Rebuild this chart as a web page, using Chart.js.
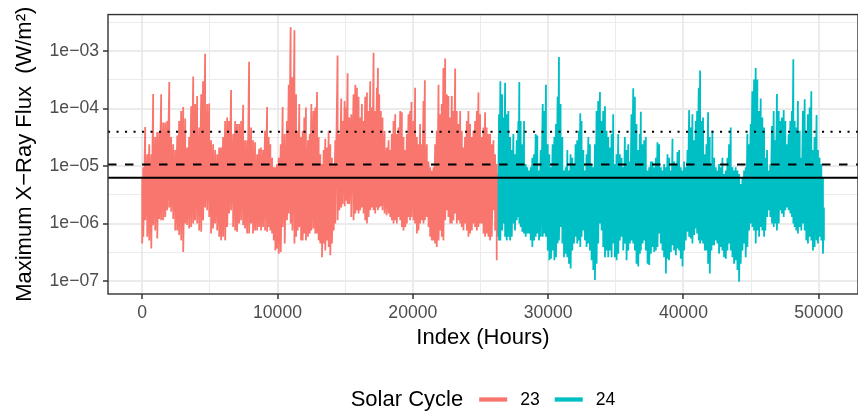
<!DOCTYPE html>
<html>
<head>
<meta charset="utf-8">
<script src="https://cdn.jsdelivr.net/npm/chart.js@4.4.1/dist/chart.umd.min.js"></script>
<style>
  html,body{margin:0;padding:0;background:#fff;}
  #wrap{width:858px;height:412px;position:relative;}
</style>
</head>
<body>
<div id="wrap"><canvas id="chart"></canvas></div>
<script>
const C23_HOURS=[0,80,220,370,520,670,810,960,1110,1260,1400,1550,1700,1850,2000,2140,2290,2440,2590,2730,2880,3030,3180,3320,3470,3620,3770,3910,4060,4210,4360,4500,4650,4800,4950,5090,5240,5390,5540,5690,5830,5980,6130,6280,6420,6570,6720,6870,7010,7160,7310,7460,7600,7750,7900,8050,8190,8340,8490,8640,8780,8930,
  9080,9230,9350,9470,9600,9720,9840,9960,10090,10240,10380,10530,10700,10830,10970,11100,11250,11370,11490,11610,11740,11860,11980,12100,12250,12380,12500,12650,12790,12920,13040,13160,13290,13410,13530,13660,13780,13900,14020,14150,14270,14440,14570,14710,14810,14960,15060,15180,15300,15450,15620,15750,15870,15990,16110,16240,16360,16480,16610,16730,16850,16980,17100,17220,17345,17420,17520,17640,17760,17910,18060,
  18210,18330,18450,18575,18700,18820,18940,19070,19190,19310,19440,19560,19680,19800,19900,20050,20170,20300,20420,20540,20670,20790,20890,21035,21160,21280,21400,21530,21650,21770,21900,22020,22140,22260,22390,22510,22630,22760,22880,23000,23130,23250,23370,23500,23620,23740,23860,23990,24110,24230,24360,24480,24600,24730,24850,24970,25090,25220,25340,25460,25590,25710,25830,25960,26080,26200];
const C23_HIGH=[6.4e-6,9.5e-6,4.8e-5,1.6e-5,2.4e-5,1.6e-5,1.8e-4,3.2e-5,3.9e-5,3.9e-5,1.78e-4,5.7e-5,5.7e-5,6.1e-5,2.9e-4,3.2e-5,2.4e-5,1.9e-5,3.4e-5,6.1e-5,9.1e-5,1.07e-4,6.7e-5,2.1e-5,3.2e-5,1.1e-4,3.6e-4,1.2e-4,1.66e-4,4.7e-5,1.78e-4,3.0e-4,9.0e-4,1.2e-4,1.22e-4,2.8e-5,2.4e-5,1.9e-5,1.6e-5,2.1e-5,2.1e-5,3.2e-5,6.1e-5,7.0e-5,6.1e-5,2.1e-4,3.6e-5,6.1e-5,5.4e-5,5.4e-5,6.1e-5,1.16e-4,2.8e-5,2.8e-5,6.5e-4,4.7e-5,2.8e-5,2.6e-5,1.6e-5,2.0e-5,2.1e-5,1.9e-5,
  4.1e-5,1.07e-4,3.2e-5,2.4e-5,1.4e-5,9.5e-6,9.5e-6,1.09e-5,1.4e-5,2.4e-5,1.07e-4,3.6e-5,6.1e-5,2.6e-4,2.6e-3,3.5e-4,2.3e-3,1.78e-4,4.1e-5,1.2e-4,3.2e-5,4.1e-5,7.0e-5,1.04e-4,2.8e-5,3.6e-5,1.2e-4,9.1e-5,1.04e-4,1.95e-4,3.2e-5,1.6e-5,1.09e-5,1.9e-5,3.0e-5,2.1e-5,4.1e-5,2.4e-5,1.4e-5,1.09e-5,2.8e-5,8.4e-4,3.6e-5,1.5e-4,6.1e-5,1.36e-4,1.04e-4,4.1e-4,7.0e-5,8.0e-5,1.78e-4,2.6e-4,2.3e-4,1.6e-4,7.0e-5,1.2e-4,6.1e-5,1.6e-4,1.9e-4,9.1e-5,3.0e-4,1.04e-4,9.4e-4,9.1e-5,2.3e-4,5.1e-4,1.78e-4,9.1e-5,7.0e-5,4.1e-5,2.1e-5,
  2.8e-5,1.9e-5,3.6e-5,6.1e-5,8.0e-5,3.6e-5,4.7e-5,9.1e-5,8.6e-5,3.2e-5,1.9e-5,3.6e-5,8.0e-5,9.1e-5,1.3e-4,6.1e-5,2.3e-4,3.2e-5,2.4e-5,5.4e-5,2.4e-5,1.36e-4,3.1e-4,2.4e-5,1.2e-5,9.5e-6,8.4e-6,9.5e-6,2.4e-5,4.1e-5,2.6e-4,8.0e-5,1.2e-4,5.1e-4,7.4e-4,1.78e-4,1.66e-4,7.0e-5,1.66e-4,9.1e-5,5.0e-4,9.1e-5,5.4e-5,9.1e-5,4.1e-5,2.1e-5,3.2e-5,6.1e-5,9.1e-5,5.4e-5,3.2e-5,4.1e-5,6.1e-5,9.1e-5,1.9e-4,8.0e-5,3.2e-5,4.7e-5,8.6e-5,4.7e-5,3.6e-5,3.6e-5,2.4e-5,2.8e-5,1.6e-5,1.09e-5];
const C23_LOW=[4.5e-7,5.9e-7,1.14e-6,5.9e-7,5.1e-7,3.7e-7,9.4e-7,7.6e-7,5.5e-7,1.2e-6,1.14e-6,1.14e-6,1.3e-6,1.7e-6,1.9e-6,1.6e-6,1.2e-6,7.6e-7,7.6e-7,6.3e-7,5.1e-7,3.2e-7,1.0e-6,9.4e-7,8.2e-7,8.7e-7,1.0e-6,1.14e-6,1.0e-6,7.6e-7,7.2e-7,1.14e-6,1.9e-6,1.7e-6,1.3e-6,6.7e-7,8.2e-7,1.0e-6,7.6e-7,5.9e-7,5.1e-7,5.9e-7,5.1e-7,8.7e-7,1.5e-6,1.7e-6,8.7e-7,7.6e-7,7.2e-7,1.0e-6,1.14e-6,9.4e-7,8.2e-7,6.7e-7,6.7e-7,1.0e-6,6.7e-7,7.6e-7,7.6e-7,8.7e-7,7.6e-7,8.7e-7,
  7.6e-7,7.2e-7,8.7e-7,7.6e-7,6.7e-7,5.1e-7,3.4e-7,3.7e-7,3.0e-7,3.2e-7,8.7e-7,4.5e-7,1.14e-6,1.5e-6,1.0e-6,7.6e-7,4.5e-7,5.9e-7,7.6e-7,8.7e-7,5.1e-7,5.1e-7,6.7e-7,5.1e-7,5.9e-7,6.7e-7,7.6e-7,8.2e-7,6.7e-7,6.7e-7,5.1e-7,4.5e-7,2.6e-7,4.5e-7,3.4e-7,5.1e-7,3.9e-7,2.8e-7,4.5e-7,7.6e-7,1.0e-6,1.14e-6,1.7e-6,1.9e-6,2.2e-6,2.0e-6,2.5e-6,2.2e-6,2.2e-6,1.3e-6,1.14e-6,1.5e-6,1.7e-6,1.5e-6,1.7e-6,1.9e-6,1.5e-6,1.14e-6,1.0e-6,1.3e-6,1.7e-6,1.9e-6,1.7e-6,1.5e-6,1.9e-6,1.7e-6,1.9e-6,2.0e-6,1.7e-6,1.5e-6,1.4e-6,
  1.5e-6,1.3e-6,1.14e-6,1.0e-6,1.14e-6,1.0e-6,1.3e-6,1.14e-6,8.7e-7,7.6e-7,8.7e-7,1.0e-6,1.3e-6,1.14e-6,1.3e-6,1.14e-6,1.0e-6,6.7e-7,7.6e-7,1.0e-6,1.14e-6,1.0e-6,1.14e-6,1.3e-6,8.7e-7,5.9e-7,5.1e-7,5.1e-7,4.5e-7,3.9e-7,5.1e-7,7.6e-7,5.9e-7,5.1e-7,1.14e-6,1.7e-6,1.3e-6,1.0e-6,1.0e-6,1.14e-6,1.5e-6,1.0e-6,1.14e-6,1.0e-6,8.7e-7,7.6e-7,1.0e-6,7.6e-7,5.9e-7,6.7e-7,7.6e-7,1.0e-6,8.7e-7,7.6e-7,8.7e-7,1.0e-6,1.0e-6,6.7e-7,5.9e-7,6.7e-7,5.9e-7,5.1e-7,5.9e-7,1.7e-6,7.6e-7,2.3e-7];

const C24_HOURS=[26280,26370,26470,26600,26720,26820,26940,27060,27190,27310,
  27430,27550,27680,27800,27870,27970,28090,28220,28340,28460,28590,28710,28830,28960,29080,29200,29325,29450,29600,29720,29840,29970,30090,30210,30330,30460,30580,30700,30800,30920,31050,31170,31290,31420,31540,31660,31785,31910,32030,32150,32280,32375,32470,32600,32720,32840,32970,33090,33210,33335,33460,33580,33700,33830,33950,34070,34200,34320,34440,34565,34690,34810,34930,35060,35180,35300,35430,35550,35670,35795,35920,36040,36160,36290,36410,36530,
  36660,36780,36850,36980,37100,37220,37345,37470,37590,37710,37840,37960,38080,38205,38330,38450,38570,38700,38820,38940,39070,39190,39310,39440,39560,39680,39800,39930,40050,40170,40300,40420,40540,40665,40790,40910,41010,41130,41230,41330,41450,41580,41700,41820,41945,42070,42140,42265,42390,42510,42630,42760,42880,43000,43130,43250,43370,43495,43620,43740,43860,43990,44110,44230,44360,44480,44600,44725,44850,44970,45090,45220,45340,45460,45590,45710,45830,
  45960,46050,46180,46300,46420,46545,46670,46790,46910,47040,47160,47280,47410,47530,47650,47775,47900,48020,48120,48220,48340,48460,48590,48710,48830,48960,49080,49200,49325,49450,49570,49690,49840,49940,50060,50190,50310,50380];
const C24_HIGH=[7.3e-6,8.0e-5,3.0e-4,1.78e-4,7.0e-5,2.8e-4,8.0e-5,9.1e-5,3.2e-5,1.9e-5,
  3.6e-5,1.6e-5,2.8e-5,6.1e-5,2.9e-4,6.1e-5,2.4e-5,6.1e-5,1.09e-5,9.5e-6,8.4e-6,9.5e-6,1.4e-5,1.6e-5,3.6e-5,3.4e-5,8.4e-6,1.9e-5,1.2e-4,9.1e-5,2.6e-4,2.4e-5,1.6e-5,9.5e-6,2.4e-5,3.2e-5,5.4e-5,1.6e-4,7.9e-4,1.2e-4,3.2e-5,8.4e-6,9.5e-6,1.9e-5,8.4e-6,1.6e-5,1.4e-5,1.09e-5,2.4e-5,2.8e-5,4.1e-5,8.3e-5,6.1e-5,1.9e-5,8.4e-6,1.6e-5,3.2e-5,2.4e-5,1.09e-5,9.5e-6,2.4e-5,9.1e-5,1.36e-4,1.95e-4,6.1e-5,9.1e-5,1.1e-4,4.1e-5,3.2e-5,2.1e-5,3.6e-5,8.0e-5,1.09e-5,1.6e-5,3.6e-5,1.6e-5,1.4e-5,9.5e-6,3.2e-5,1.9e-5,2.4e-5,1.2e-5,8.0e-5,2.26e-4,1.6e-4,5.4e-5,
  1.9e-5,3.6e-5,8.8e-5,2.4e-5,2.8e-5,3.2e-5,8.4e-6,9.5e-6,1.2e-5,1.2e-5,9.5e-6,1.4e-5,2.6e-5,2.4e-5,9.5e-6,8.4e-6,1.09e-5,9.5e-6,1.6e-5,1.4e-5,8.4e-6,3.0e-5,1.2e-5,1.09e-5,1.75e-5,1.9e-5,9.5e-6,8.4e-6,1.2e-5,9.5e-6,1.9e-5,9.4e-5,4.7e-5,8.0e-5,2.8e-5,6.1e-5,9.1e-5,2.3e-4,4.6e-4,6.1e-5,7.0e-5,1.6e-5,2.4e-5,8.6e-5,3.2e-5,1.09e-5,4.1e-5,1.4e-5,9.5e-6,8.4e-6,1.09e-5,9.5e-6,1.4e-5,7.3e-6,8.4e-6,1.4e-5,2.4e-5,4.7e-5,9.5e-6,8.4e-6,9.5e-6,8.4e-6,7.3e-6,4.9e-6,6.4e-6,8.4e-6,9.5e-6,3.6e-5,2.4e-5,5.4e-5,2.0e-4,3.2e-4,5.1e-4,3.2e-4,9.1e-5,1.5e-4,7.0e-5,
  4.7e-5,1.4e-5,1.9e-5,8.4e-6,1.09e-5,5.0e-5,9.1e-5,2.8e-5,1.8e-4,9.1e-5,6.1e-5,7.0e-5,9.4e-5,6.1e-5,2.4e-5,3.6e-5,6.1e-5,9.1e-5,7.2e-4,6.1e-5,4.7e-5,1.36e-4,4.1e-5,1.4e-5,9.1e-5,1.45e-4,4.1e-5,8.0e-5,1.04e-4,2.0e-4,1.9e-5,3.2e-5,7.7e-5,1.9e-5,1.4e-5,1.09e-5,6.4e-6,1.9e-6];
const C24_LOW=[5.9e-7,5.1e-7,5.1e-7,7.6e-7,1.0e-6,5.9e-7,5.1e-7,5.9e-7,5.1e-7,5.9e-7,
  1.0e-6,7.6e-7,1.14e-6,1.3e-6,1.0e-6,8.7e-7,7.2e-7,6.7e-7,5.9e-7,6.7e-7,6.7e-7,5.1e-7,3.9e-7,5.1e-7,5.9e-7,6.7e-7,5.1e-7,5.9e-7,5.9e-7,6.7e-7,5.9e-7,3.4e-7,2.3e-7,2.45e-7,3.4e-7,2.3e-7,2.6e-7,4.5e-7,5.1e-7,8.7e-7,4.5e-7,2.6e-7,3.0e-7,2.6e-7,2.0e-7,1.65e-7,3.4e-7,4.5e-7,5.9e-7,4.5e-7,5.1e-7,3.9e-7,5.9e-7,7.6e-7,5.1e-7,3.9e-7,4.5e-7,3.4e-7,2.3e-7,1.55e-7,1.04e-7,2.0e-7,4.5e-7,1.0e-6,7.6e-7,3.9e-7,2.6e-7,3.4e-7,2.6e-7,3.4e-7,2.6e-7,4.5e-7,2.6e-7,2.3e-7,3.0e-7,5.1e-7,5.9e-7,3.4e-7,4.5e-7,2.3e-7,3.4e-7,4.5e-7,5.1e-7,4.5e-7,3.4e-7,2.0e-7,
  1.8e-7,3.0e-7,3.4e-7,4.5e-7,5.1e-7,3.4e-7,2.0e-7,1.9e-7,3.0e-7,3.9e-7,3.2e-7,3.4e-7,3.9e-7,6.7e-7,4.5e-7,3.4e-7,2.6e-7,1.36e-7,2.45e-7,2.3e-7,3.2e-7,4.2e-7,3.4e-7,2.8e-7,3.7e-7,3.4e-7,2.45e-7,1.8e-7,3.4e-7,5.1e-7,7.2e-7,5.9e-7,5.5e-7,4.5e-7,6.3e-7,8.2e-7,6.7e-7,5.1e-7,4.5e-7,5.1e-7,4.5e-7,3.4e-7,3.4e-7,2.0e-7,1.36e-7,3.4e-7,4.2e-7,4.2e-7,5.1e-7,4.5e-7,3.0e-7,3.9e-7,3.4e-7,2.6e-7,2.45e-7,3.4e-7,4.5e-7,3.4e-7,2.6e-7,2.0e-7,2.3e-7,1.55e-7,9.7e-8,2.0e-7,3.4e-7,4.5e-7,2.6e-7,3.9e-7,7.6e-7,1.0e-6,8.7e-7,7.6e-7,4.5e-7,7.6e-7,5.9e-7,8.7e-7,7.6e-7,
  5.9e-7,7.6e-7,1.3e-6,1.7e-6,1.3e-6,1.0e-6,8.7e-7,1.0e-6,7.6e-7,1.0e-6,1.7e-6,1.5e-6,1.3e-6,1.7e-6,1.9e-6,1.7e-6,1.5e-6,1.3e-6,1.0e-6,8.7e-7,7.6e-7,6.7e-7,8.7e-7,7.6e-7,1.0e-6,7.6e-7,5.1e-7,4.5e-7,5.9e-7,5.1e-7,3.4e-7,3.9e-7,5.1e-7,4.5e-7,5.9e-7,5.1e-7,3.0e-7,5.1e-7];

// reference levels: solid, dashed, dotted
const THRESHOLDS=[6.25e-6,1.06e-5,3.95e-5];

const SERIES_LABELS=['23','24'];
const LEGEND_TITLE='Solar Cycle';
const X_MAJOR=[0,10000,20000,30000,40000,50000];
const X_MINOR=[5000,15000,25000,35000,45000];
const Y_MAJOR=[1e-7,1e-6,1e-5,1e-4,1e-3];
const Y_LABELS=['1e\u221207','1e\u221206','1e\u221205','1e\u221204','1e\u221203'];
const Y_MINOR=[3.162e-7,3.162e-6,3.162e-5,3.162e-4,3.162e-3];

const X_MIN=-2528, X_MAX=52900, Y_MIN=5.955e-8, Y_MAX=4.32e-3;
const COLORS=['#F8766D','#00BFC4'];
const FONT='"Liberation Sans", Arial, Helvetica, sans-serif';

function zigzag(hours,high,low){
  const pts=[];
  hours.forEach((h,i)=>{ pts.push({x:h,y:high[i]}); pts.push({x:h,y:low[i]}); });
  return pts;
}
function hline(v,dash){
  return {data:[{x:X_MIN,y:v},{x:X_MAX,y:v}],borderColor:'#000',borderWidth:2,borderDash:dash,
    pointRadius:0,fill:false,legend:false};
}

const panelBorder={
  id:'panelBorder',
  afterDatasetsDraw(chart){
    const {ctx,chartArea:a}=chart;
    ctx.save();
    ctx.strokeStyle='#333333'; ctx.lineWidth=1.4;
    ctx.strokeRect(a.left,a.top,a.right-a.left,a.bottom-a.top);
    ctx.restore();
  }
};

// ggplot-style legend: title on the left, line keys after it
const cycleLegend={
  id:'cycleLegend',
  afterDraw(chart){
    const {ctx,chartArea:a}=chart;
    ctx.save();
    ctx.font='22px '+FONT;
    const titleW=ctx.measureText(LEGEND_TITLE).width;
    ctx.font='17.6px '+FONT;
    const labW=SERIES_LABELS.map(l=>ctx.measureText(l).width);
    const keyW=28, gapTitle=16, gapKey=13, gapItem=15;
    let total=titleW+gapTitle;
    labW.forEach((w,i)=>{ total+=keyW+gapKey+w+(i<labW.length-1?gapItem:0); });
    let x=(a.left+a.right)/2-total/2;
    const y=399.5;
    ctx.textBaseline='middle'; ctx.textAlign='left'; ctx.fillStyle='#000';
    ctx.font='22px '+FONT;
    ctx.fillText(LEGEND_TITLE,x,y);
    x+=titleW+gapTitle;
    ctx.font='17.6px '+FONT;
    SERIES_LABELS.forEach((l,i)=>{
      ctx.strokeStyle=COLORS[i]; ctx.lineWidth=4.3; ctx.lineCap='butt';
      ctx.beginPath(); ctx.moveTo(x,y); ctx.lineTo(x+keyW,y); ctx.stroke();
      x+=keyW+gapKey;
      ctx.fillStyle='#000'; ctx.fillText(l,x,y+1);
      x+=labW[i]+gapItem;
    });
    ctx.restore();
  }
};

const isMajorX=v=>X_MAJOR.includes(v);
const isMajorY=v=>Y_MAJOR.includes(v);

new Chart(document.getElementById('chart'),{
  type:'line',
  data:{datasets:[
    hline(THRESHOLDS[0],[]),
    hline(THRESHOLDS[1],[8.5,8.5]),
    hline(THRESHOLDS[2],[2.1,6.4]),
    {label:SERIES_LABELS[0],data:zigzag(C23_HOURS,C23_HIGH,C23_LOW),borderColor:COLORS[0],borderWidth:1.8,pointRadius:0,tension:0},
    {label:SERIES_LABELS[1],data:zigzag(C24_HOURS,C24_HIGH,C24_LOW),borderColor:COLORS[1],borderWidth:1.8,pointRadius:0,tension:0}
  ]},
  options:{
    responsive:true,maintainAspectRatio:false,animation:false,
    events:[],
    layout:{padding:{left:0,right:-2,top:13.3,bottom:61}},
    plugins:{legend:{display:false},tooltip:{enabled:false}},
    scales:{
      x:{
        type:'linear',min:X_MIN,max:X_MAX,
        afterBuildTicks:s=>{ s.ticks=[...X_MAJOR,...X_MINOR].sort((a,b)=>a-b).map(v=>({value:v})); },
        afterFit:s=>{ s.height=57; },
        ticks:{autoSkip:false,maxRotation:0,padding:4,color:'#4D4D4D',font:{family:FONT,size:17.6},
          callback:v=>isMajorX(v)?String(v):''},
        grid:{color:'#EBEBEB',lineWidth:c=>c.tick&&isMajorX(c.tick.value)?2:1,
          tickLength:5,tickWidth:1.5,tickColor:c=>c.tick&&isMajorX(c.tick.value)?'#333333':'rgba(0,0,0,0)'},
        border:{display:false},
        title:{display:true,text:'Index (Hours)',color:'#000',font:{family:FONT,size:22},padding:{top:0,bottom:0}}
      },
      y:{
        type:'logarithmic',min:Y_MIN,max:Y_MAX,
        afterBuildTicks:s=>{ s.ticks=[...Y_MAJOR,...Y_MINOR].sort((a,b)=>a-b).map(v=>({value:v})); },
        afterFit:s=>{ s.width=108; },
        ticks:{autoSkip:false,padding:4,color:'#4D4D4D',font:{family:FONT,size:17.6},
          callback:v=>{ const i=Y_MAJOR.indexOf(v); return i>=0?Y_LABELS[i]:''; }},
        grid:{color:'#EBEBEB',lineWidth:c=>c.tick&&isMajorY(c.tick.value)?2:1,
          tickLength:5,tickWidth:1.5,tickColor:c=>c.tick&&isMajorY(c.tick.value)?'#333333':'rgba(0,0,0,0)'},
        border:{display:false},
        title:{display:true,text:'Maximum X\u2212Ray Flux  (W/m\u00B2)',color:'#000',font:{family:FONT,size:22},padding:{top:12,bottom:0}}
      }
    }
  },
  plugins:[panelBorder,cycleLegend]
});
</script>
</body>
</html>
